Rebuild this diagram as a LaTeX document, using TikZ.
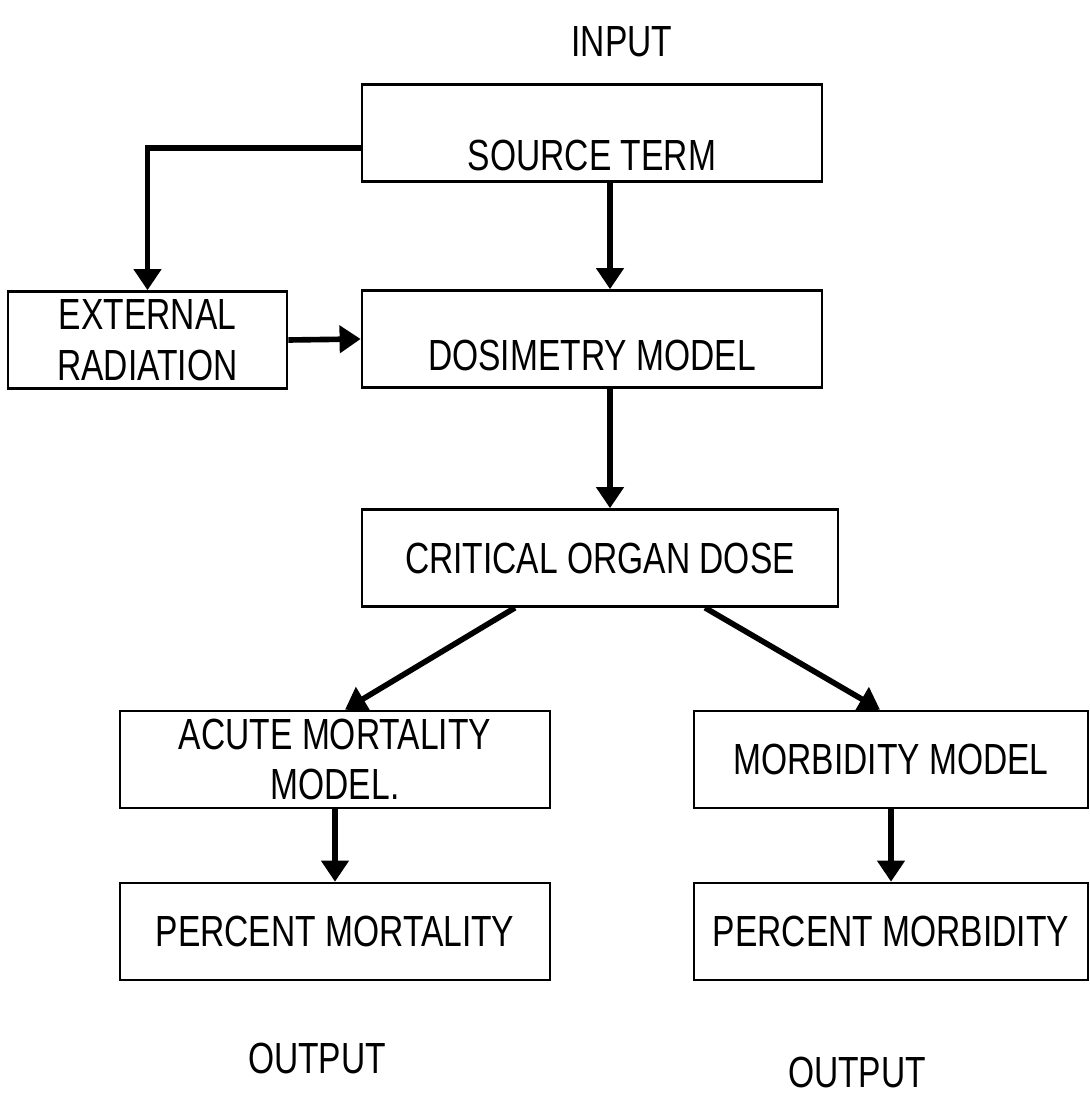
\documentclass[tikz,border=0pt]{standalone}
\usepackage{fontspec}
\setmainfont{Liberation Sans}[FakeStretch=0.77]
\usetikzlibrary{arrows.meta}

\begin{document}
\begin{tikzpicture}[
    x = 0.025cm, y = -0.025cm,
    box/.style = {draw, line width=1.8pt, align=center, inner sep=0pt,
                  minimum height=2.425cm},
    lowtext/.style = {text height=#1, text depth=0pt},
    flow/.style = {line width=4pt, -{Triangle[length=15pt,width=19pt]}},
    every node/.style = {font = \fontsize{31}{36}\selectfont}]

\useasboundingbox (0,0) rectangle (1089,1108);

\node[box, minimum width=11.5cm, lowtext=53pt] (src)   at (592,133)   {SOURCE TERM};
\node[box, minimum width=6.975cm]  (ext)   at (147.5,340) {EXTERNAL\\RADIATION};
\node[box, minimum width=11.5cm, lowtext=45pt] (dos)   at (592,339)   {DOSIMETRY MODEL};
\node[box, minimum width=11.9cm]   (crit)  at (600,558)   {CRITICAL ORGAN DOSE};
\node[box, minimum width=10.75cm]  (acute) at (335,759.5) {ACUTE MORTALITY\\MODEL.};
\node[box, minimum width=9.85cm]   (morb)  at (891,759.5) {MORBIDITY MODEL};
\node[box, minimum width=10.75cm]  (pmort) at (335,931.5) {PERCENT MORTALITY};
\node[box, minimum width=9.85cm]   (pmorb) at (891,931.5) {PERCENT MORBIDITY};

\node (inp)  at (622,42)   {INPUT};
\node (out1) at (317,1058) {OUTPUT};
\node (out2) at (857,1072) {OUTPUT};

\draw[flow] ([yshift=-0.375cm]src.west) -| (ext.north);
\draw[flow] ([xshift=0.45cm]src.south) -- ([xshift=0.45cm]dos.north);
\draw[flow] (ext.east) -- (dos.west);
\draw[flow] ([xshift=0.45cm]dos.south) -- ([xshift=0.25cm]crit.north);
\draw[flow] ([xshift=-2.125cm]crit.south) -- ([xshift=0.25cm]acute.north);
\draw[flow] ([xshift=2.625cm]crit.south) -- ([xshift=-0.275cm]morb.north);
\draw[flow] (acute) -- (pmort);
\draw[flow] (morb) -- (pmorb);
\end{tikzpicture}
\end{document}
